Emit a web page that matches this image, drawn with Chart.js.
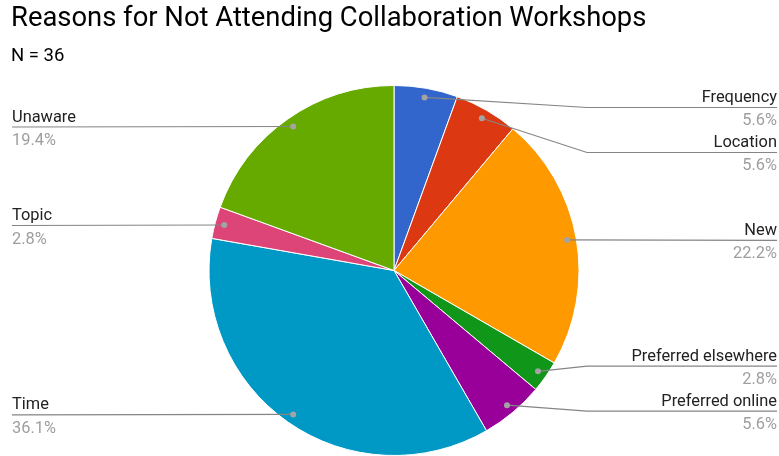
<!DOCTYPE html>
<html>
<head>
<meta charset="utf-8">
<script src="https://cdn.jsdelivr.net/npm/chart.js@4/dist/chart.umd.min.js"></script>
<style>
  html, body { margin: 0; padding: 0; background: #ffffff; }
  #wrap { width: 779px; height: 456px; position: relative; }
</style>
</head>
<body>
<div id="wrap"><canvas id="chart" width="779" height="456"></canvas></div>
<script>
// Survey responses: reasons for not attending collaboration workshops
const categories = [
  'Frequency', 'Location', 'New', 'Preferred elsewhere',
  'Preferred online', 'Time', 'Topic', 'Unaware'
];
const counts = [2, 2, 8, 1, 2, 13, 1, 7];
const sliceColors = [
  '#3366cc', '#dc3912', '#ff9900', '#109618',
  '#990099', '#0099c6', '#dd4477', '#66aa00'
];
const titleText = 'Reasons for Not Attending Collaboration Workshops';
const subtitleText = 'N = 36';

const FONT = 'Roboto, "Noto Sans", sans-serif';

// Outside labels with leader lines, name above the line and share below it
const leaderLabels = {
  id: 'leaderLabels',
  afterDatasetsDraw(chart) {
    const ctx = chart.ctx;
    const meta = chart.getDatasetMeta(0);
    const data = chart.data.datasets[0].data;
    const total = data.reduce((a, b) => a + b, 0);
    const area = chart.chartArea;
    const gap = 45;
    const minY = area.top + 22;
    const maxY = area.bottom - 22;

    const items = meta.data.map((arc, i) => {
      const p = arc.getProps(['x', 'y', 'startAngle', 'endAngle', 'outerRadius'], true);
      const mid = (p.startAngle + p.endAngle) / 2;
      const r = p.outerRadius * 0.95;
      const dx = p.x + Math.cos(mid) * r;
      const dy = p.y + Math.sin(mid) * r;
      return {
        i, cx: p.x, R: p.outerRadius, dx, dy,
        right: Math.cos(mid) >= 0,
        label: chart.data.labels[i],
        pct: (data[i] / total * 100).toFixed(1) + '%'
      };
    });

    // spread labels on each side so they keep a minimum vertical gap
    function spread(list) {
      list.sort((a, b) => a.dy - b.dy);
      let groups = list.map(it => ({ items: [it], mean: it.dy }));
      const place = g => {
        const n = g.items.length;
        let top = g.mean - (n - 1) * gap / 2;
        top = Math.max(top, minY);
        top = Math.min(top, maxY - (n - 1) * gap);
        g.top = top;
      };
      groups.forEach(place);
      let merged = true;
      while (merged) {
        merged = false;
        for (let k = 1; k < groups.length; k++) {
          const a = groups[k - 1], b = groups[k];
          if (a.top + a.items.length * gap > b.top) {
            const its = a.items.concat(b.items);
            const g = { items: its, mean: its.reduce((s, t) => s + t.dy, 0) / its.length };
            place(g);
            groups.splice(k - 1, 2, g);
            merged = true;
            break;
          }
        }
      }
      groups.forEach(g => g.items.forEach((it, j) => { it.ly = g.top + j * gap; }));
    }
    spread(items.filter(t => t.right));
    spread(items.filter(t => !t.right));

    const leftX = 12, rightX = 777;
    ctx.save();
    items.forEach(it => {
      const bendX = it.right ? it.cx + it.R + 8 : it.cx - it.R - 8;
      const endX = it.right ? rightX : leftX;
      ctx.strokeStyle = '#858585';
      ctx.lineWidth = 1.2;
      ctx.beginPath();
      ctx.moveTo(it.dx, it.dy);
      if (Math.abs(it.ly - it.dy) > 0.5) ctx.lineTo(bendX, it.ly + 0.5);
      ctx.lineTo(endX, it.ly + 0.5);
      ctx.stroke();

      ctx.fillStyle = '#a3a3a3';
      ctx.beginPath();
      ctx.arc(it.dx, it.dy, 3, 0, Math.PI * 2);
      ctx.fill();

      ctx.textAlign = it.right ? 'right' : 'left';
      ctx.textBaseline = 'alphabetic';
      ctx.font = '16.4px ' + FONT;
      ctx.fillStyle = '#222222';
      ctx.fillText(it.label, endX, it.ly - 5);
      ctx.fillStyle = '#9e9e9e';
      ctx.fillText(it.pct, endX, it.ly + 18.5);
    });
    ctx.restore();
  }
};

new Chart(document.getElementById('chart'), {
  type: 'pie',
  data: {
    labels: categories,
    datasets: [{
      data: counts,
      backgroundColor: sliceColors,
      borderColor: '#ffffff',
      borderWidth: 1
    }]
  },
  options: {
    responsive: false,
    animation: false,
    layout: { padding: { left: 11, right: 2, top: 0, bottom: 0 } },
    plugins: {
      legend: { display: false },
      tooltip: { enabled: false },
      title: {
        display: true,
        text: titleText,
        align: 'start',
        color: '#000000',
        font: { family: FONT, size: 27.4, weight: 'normal' },
        padding: { top: 3, bottom: 4.5 }
      },
      subtitle: {
        display: true,
        text: subtitleText,
        align: 'start',
        color: '#000000',
        font: { family: FONT, size: 18.5, weight: 'normal' },
        padding: { top: 5, bottom: 17.4 }
      }
    }
  },
  plugins: [leaderLabels]
});
</script>
</body>
</html>
